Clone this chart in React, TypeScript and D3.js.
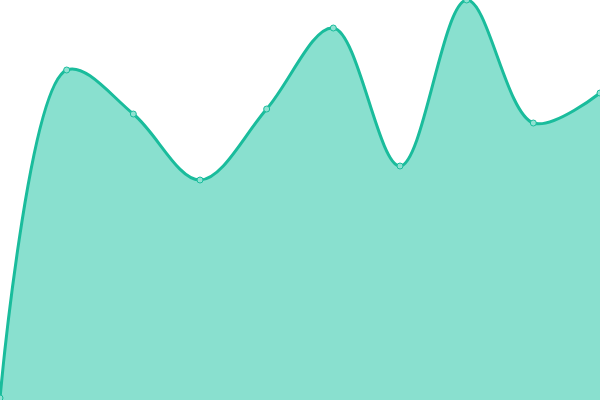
import * as d3 from 'd3'
import { useEffect, useRef } from 'react'

const labels = ['1', '2', '3', '4', '5', '6', '7', '8', '9', '10']
const values = [0.5, 82.5, 71.5, 55, 72.75, 93, 58.5, 100, 69.25, 76.75]

export default function App() {
    const svgRef = useRef<SVGSVGElement>(null)
    const width = 600
    const height = 400

    useEffect(() => {
        if (!svgRef.current) return
        document.body.style.margin = '0'

        const svg = d3.select(svgRef.current)
        svg.selectAll('*').remove()

        const x = d3
            .scalePoint<string>()
            .domain(labels)
            .range([0, width])
        const y = d3.scaleLinear().domain([0, 100]).range([height, 0])

        const curve = d3.curveCatmullRom.alpha(0.5)

        const area = d3
            .area<number>()
            .x((_, i) => x(labels[i]) as number)
            .y0(height)
            .y1((d) => y(d))
            .curve(curve)

        const line = d3
            .line<number>()
            .x((_, i) => x(labels[i]) as number)
            .y((d) => y(d))
            .curve(curve)

        svg.append('path')
            .datum(values)
            .attr('d', area)
            .attr('fill', '#89e0cf')

        svg.append('path')
            .datum(values)
            .attr('d', line)
            .attr('fill', 'none')
            .attr('stroke', '#1abc9c')
            .attr('stroke-width', 3)

        // point markers
        svg.selectAll('circle')
            .data(values)
            .join('circle')
            .attr('cx', (_, i) => x(labels[i]) as number)
            .attr('cy', (d) => y(d))
            .attr('r', 3)
            .attr('fill', '#8fe2d2')
            .attr('stroke', '#1abc9c')
            .attr('stroke-width', 1)
    }, [])

    return (
        <svg
            ref={svgRef}
            width={width}
            height={height}
            style={{ position: 'fixed', top: 0, left: 0, display: 'block' }}
        />
    )
}
